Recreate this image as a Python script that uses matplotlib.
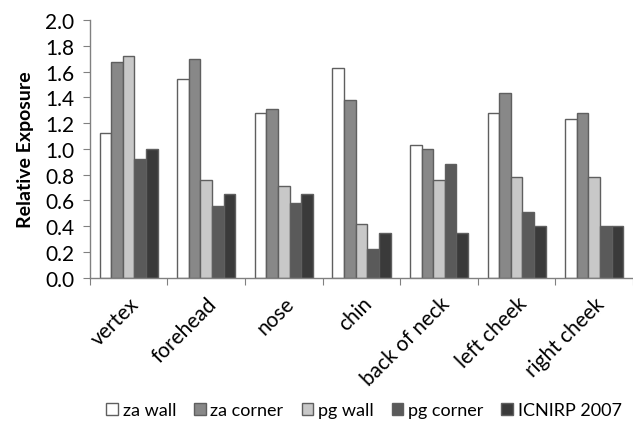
import numpy as np
import matplotlib.pyplot as plt

# body sites and relative exposure per scenario
sites = ["vertex", "forehead", "nose", "chin", "back of neck", "left cheek", "right cheek"]
za_wall = [1.12, 1.54, 1.28, 1.63, 1.03, 1.28, 1.23]
za_corner = [1.67, 1.70, 1.31, 1.38, 1.00, 1.43, 1.28]
pg_wall = [1.72, 0.76, 0.71, 0.42, 0.76, 0.78, 0.78]
pg_corner = [0.92, 0.56, 0.58, 0.22, 0.88, 0.51, 0.40]
icnirp = [1.00, 0.65, 0.65, 0.35, 0.35, 0.40, 0.40]

series = [
    ("za wall", za_wall, "#ffffff"),
    ("za corner", za_corner, "#888888"),
    ("pg wall", pg_wall, "#c8c8c8"),
    ("pg corner", pg_corner, "#5a5a5a"),
    ("ICNIRP 2007", icnirp, "#3a3a3a"),
]

plt.rcParams["font.family"] = ["Lato", "DejaVu Sans"]

fig = plt.figure(figsize=(6.33, 4.27), dpi=100)
ax = fig.add_axes([0.142, 0.347, 0.858, 0.604])

x = np.arange(len(sites)) + 0.5
w = 0.15
for i, (name, vals, col) in enumerate(series):
    ax.bar(x + (i - 2) * w, vals, w, color=col, edgecolor="#5f5f5f",
           linewidth=1.0, label=name)

ax.set_xlim(0, len(sites))
ax.set_ylim(0, 2.0)
ax.set_yticks(np.arange(0, 2.01, 0.2))
ax.set_yticklabels([f"{v:.1f}" for v in np.arange(0, 2.01, 0.2)], fontsize=15)
ax.set_ylabel("Relative Exposure", fontsize=14, fontweight="bold", labelpad=8)

# category ticks at boundaries, labels at centres
ax.set_xticks(np.arange(len(sites) + 1))
ax.set_xticklabels([])
ax.set_xticks(x, minor=True)
ax.set_xticklabels(sites, minor=True, rotation=45, ha="right",
                   rotation_mode="anchor", fontsize=15)
ax.tick_params(axis="x", which="minor", length=0, pad=11)
ax.tick_params(axis="x", which="major", length=5, color="#808080", direction="out")
ax.tick_params(axis="y", length=5, color="#808080", direction="out", pad=6)

for s in ["top", "right"]:
    ax.spines[s].set_visible(False)
for s in ["left", "bottom"]:
    ax.spines[s].set_color("#808080")
    ax.spines[s].set_linewidth(1.0)

fig.legend(loc="lower center", bbox_to_anchor=(0.575, -0.02), ncol=5,
           frameon=False, fontsize=13, handlelength=0.65, handleheight=0.65,
           handletextpad=0.25, columnspacing=1.0)

fig.savefig("out.png", dpi=100)
